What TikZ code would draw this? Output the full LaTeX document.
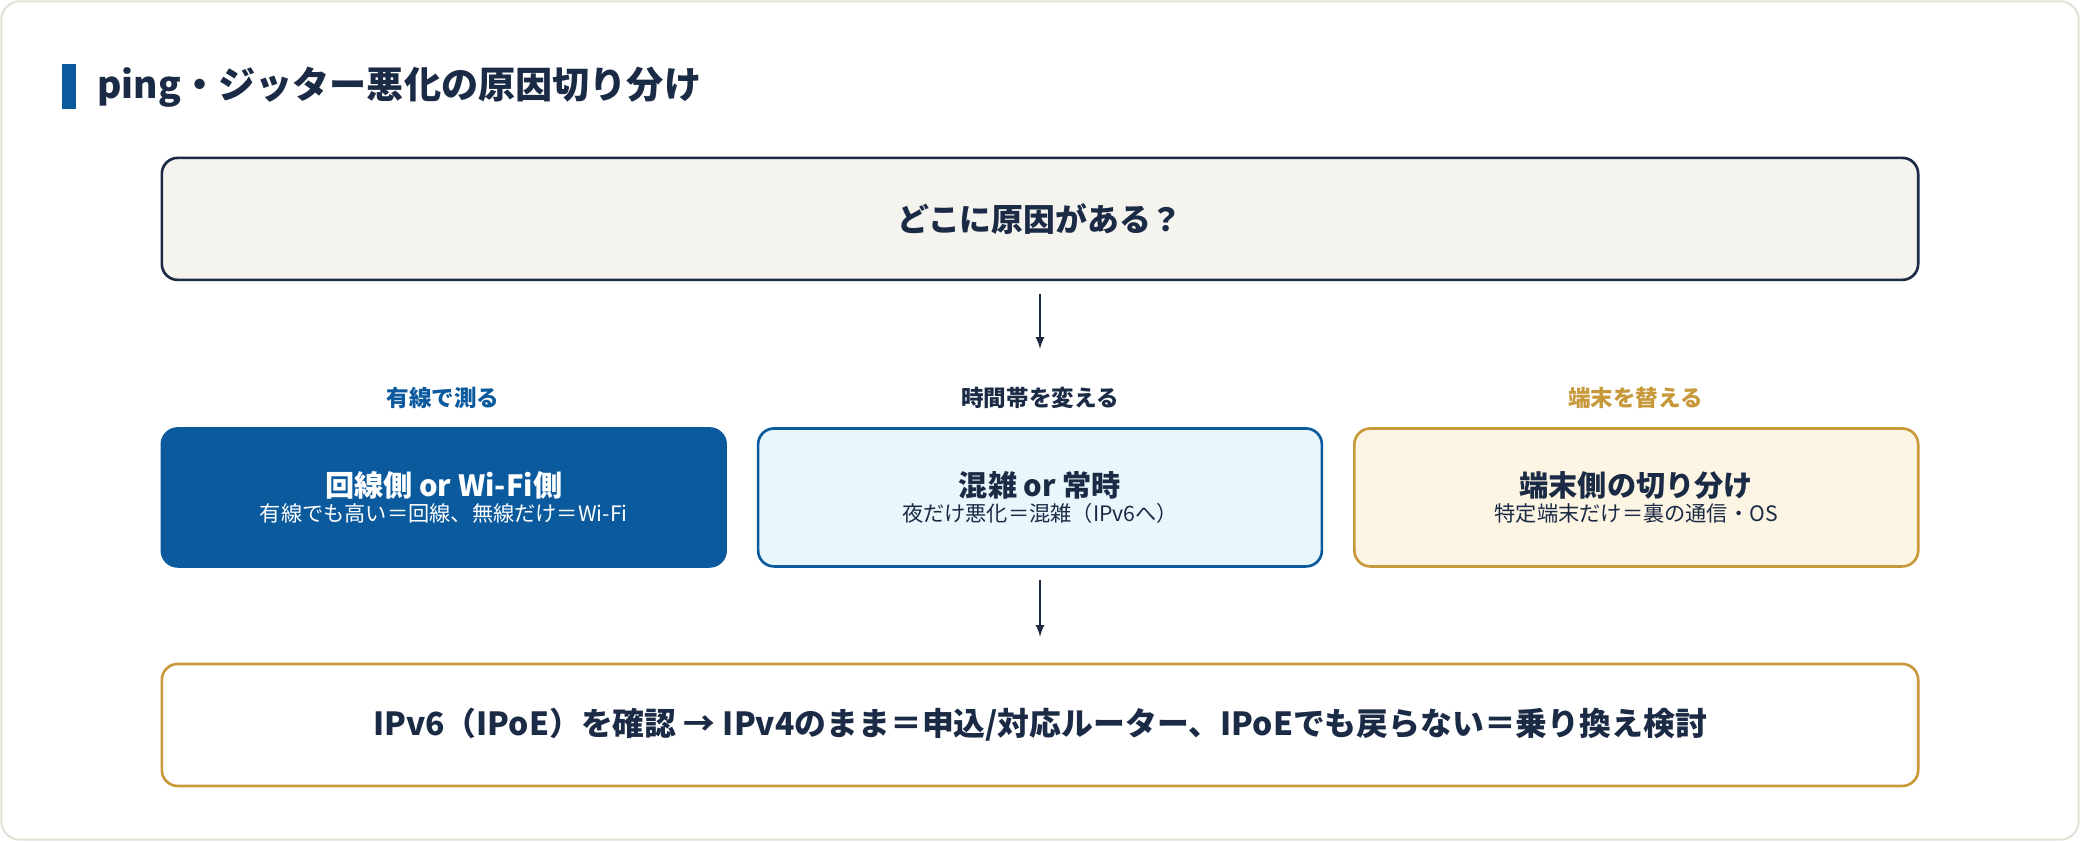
\documentclass[tikz,border=0pt]{standalone}
\usepackage{fontspec}
\setmainfont{Noto Sans CJK JP}
\usetikzlibrary{positioning}
\definecolor{navy}{HTML}{1B2B45}
\definecolor{mblue}{HTML}{0B5A9E}
\definecolor{lblue}{HTML}{E9F6FB}
\definecolor{gold}{HTML}{C8993A}
\definecolor{lgold}{HTML}{FDF5E4}
\definecolor{beige}{HTML}{F5F3EE}
\definecolor{frame}{HTML}{E3E0D4}
\tikzset{>=latex}
\tikzset{
  bigbox/.style={draw, line width=2pt, rounded corners=12pt, minimum width=1324pt, minimum height=92pt, font=\fontsize{24}{28}\selectfont\bfseries, text=navy},
  midbox/.style={draw, line width=2pt, rounded corners=12pt, minimum width=425pt, minimum height=104pt, align=center},
  toplabel/.style={font=\fontsize{17}{20}\selectfont\bfseries},
  flow/.style={->, line width=2pt, draw=navy}
}
\newcommand{\boxtext}[2]{{\fontsize{22}{28}\selectfont\bfseries #1}\\[2pt]{\fontsize{16}{20}\selectfont #2}}
\begin{document}
\begin{tikzpicture}[x=1pt,y=-1pt]
  \useasboundingbox (0,0) rectangle (1568,634);
  \draw[frame, fill=white, rounded corners=14pt, line width=1.5pt] (1,1) rectangle (1567,633);
  % title
  \fill[mblue] (47,48) rectangle (57,82);
  \node[anchor=west, text=navy, font=\fontsize{28}{32}\selectfont\bfseries] (title) at (70,66) {ping・ジッター悪化の原因切り分け};
  % question
  \node[bigbox, draw=navy, fill=beige] (q) at (784,165) {どこに原因がある？};
  \coordinate (a1) at (784,263);
  \draw[flow] (q.south |- 0,222) -- (a1);
  % checks
  \node[toplabel, text=mblue] (l1) at (334,300) {有線で測る};
  \node[toplabel, text=navy] (l2) at (784,300) {時間帯を変える};
  \node[toplabel, text=gold] (l3) at (1233,300) {端末を替える};
  \node[midbox, draw=mblue, fill=mblue, text=white] (b1) at (334.5,375) {\boxtext{回線側 or Wi-Fi側}{有線でも高い＝回線、無線だけ＝Wi-Fi}};
  \node[midbox, draw=mblue, fill=lblue, text=navy] (b2) at (784,375) {\boxtext{混雑 or 常時}{夜だけ悪化＝混雑（IPv6へ）}};
  \node[midbox, draw=gold, fill=lgold, text=navy] (b3) at (1233.5,375) {\boxtext{端末側の切り分け}{特定端末だけ＝裏の通信・OS}};
  % answer
  \node[bigbox, draw=gold, fill=white] (ans) at (784,546.5) {IPv6（IPoE）を確認 → IPv4のまま＝申込/対応ルーター、IPoEでも戻らない＝乗り換え検討};
  \coordinate (a2) at (784,437);
  \draw[flow] (a2) -- (ans.north |- 0,480);
\end{tikzpicture}
\end{document}
